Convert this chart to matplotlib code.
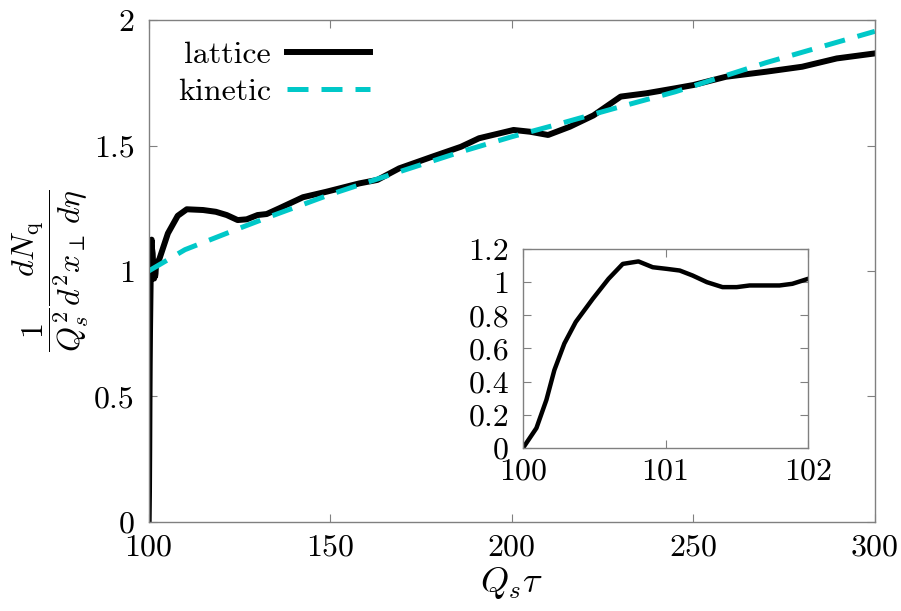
import numpy as np
import matplotlib
matplotlib.use("Agg")
import matplotlib.pyplot as plt

plt.rcParams["font.family"] = "serif"
plt.rcParams["font.serif"] = ["cmr10", "DejaVu Serif"]
plt.rcParams["mathtext.fontset"] = "cm"
plt.rcParams["axes.formatter.use_mathtext"] = True

# lattice data (Q_s tau, dN/...)
lat_x = [100.0, 100.094, 100.164, 100.22, 100.29, 100.37, 100.49, 100.60, 100.70, 100.81,
         100.91, 101.01, 101.10, 101.19, 101.29, 101.40, 101.50, 101.59, 101.71, 101.80,
         101.89, 102.0, 103.0, 105.3, 108.0, 110.5, 115.0, 118.5, 121.5, 124.5, 127.0,
         130.0, 132.5, 136.0, 142.5, 149.0, 158.0, 163.0, 169.0, 178.0, 186.0, 191.0,
         200.5, 205.0, 210.0, 216.0, 222.5, 230.0, 237.0, 245.0, 250.0, 259.0, 270.0,
         280.0, 289.5, 300.0]
lat_y = [0.0, 0.12, 0.29, 0.47, 0.63, 0.76, 0.90, 1.02, 1.11, 1.125,
         1.09, 1.08, 1.07, 1.04, 1.00, 0.97, 0.97, 0.98, 0.98, 0.98,
         0.99, 1.02, 1.05, 1.15, 1.22, 1.246, 1.243, 1.236, 1.223, 1.203, 1.206,
         1.223, 1.227, 1.25, 1.294, 1.316, 1.349, 1.363, 1.409, 1.455, 1.495, 1.529,
         1.562, 1.555, 1.542, 1.575, 1.62, 1.695, 1.708, 1.728, 1.741, 1.774, 1.794,
         1.814, 1.847, 1.867]

# kinetic theory curve
kin_x = [100, 110, 126, 134, 150, 170, 186, 200, 212, 230, 245, 270, 300]
kin_y = [1.0, 1.085, 1.176, 1.22, 1.305, 1.40, 1.475, 1.535, 1.582, 1.655, 1.714, 1.83, 1.955]

main_xticks = [100, 150, 200, 250, 300]
main_yticks = [0, 0.5, 1, 1.5, 2]
main_ylabels = ["0", "0.5", "1", "1.5", "2"]
ins_xticks = [100, 101, 102]
ins_yticks = [0, 0.2, 0.4, 0.6, 0.8, 1.0, 1.2]
ins_ylabels = ["0", "0.2", "0.4", "0.6", "0.8", "1", "1.2"]

fs = 23
grey = "#808080"
cyan = "#00c8c8"

fig = plt.figure(figsize=(9.01, 6.11), dpi=100)
ax = fig.add_axes([0.165, 0.1457, 0.806, 0.8215])

ax.plot(lat_x, lat_y, color="black", lw=4.3, label="lattice", solid_joinstyle="round")
ax.plot(kin_x, kin_y, color=cyan, lw=3.6, linestyle=(0, (4.2, 2.6)), label="kinetic")

ax.set_xlim(100, 300)
ax.set_ylim(0, 2)
ax.set_xticks(main_xticks)
ax.set_xticklabels([str(t) for t in main_xticks])
ax.set_yticks(main_yticks)
ax.set_yticklabels(main_ylabels)
ax.set_xlabel(r"$Q_s\tau$", fontsize=fs + 3, labelpad=2)
ax.set_ylabel(r"$\dfrac{1}{Q_s^2}\dfrac{dN_{\rm q}}{d^2x_\perp\, d\eta}$", fontsize=fs, labelpad=2)

for s in ax.spines.values():
    s.set_color(grey)
    s.set_linewidth(1.0)
ax.tick_params(direction="in", top=True, right=True, length=6, width=0.8, color=grey,
               labelsize=fs)
ax.tick_params(axis="x", pad=9)
ax.tick_params(axis="y", pad=10)

leg = ax.legend(loc="upper left", bbox_to_anchor=(0.04, 0.958), frameon=False, markerfirst=False,
                fontsize=fs, handlelength=2.6, handletextpad=0.5, labelspacing=0.25,
                borderpad=0, borderaxespad=0)

# inset
ins = fig.add_axes([0.5805, 0.2668, 0.3163, 0.3257])
ins.plot(lat_x, lat_y, color="black", lw=3.2)
ins.set_xlim(100, 102)
ins.set_ylim(0, 1.2)
ins.set_xticks(ins_xticks)
ins.set_xticklabels([str(t) for t in ins_xticks])
ins.set_yticks(ins_yticks)
ins.set_yticklabels(ins_ylabels)
for s in ins.spines.values():
    s.set_color(grey)
    s.set_linewidth(1.0)
ins.tick_params(direction="in", top=True, right=True, length=6, width=0.8, color=grey,
                labelsize=fs)
ins.tick_params(axis="x", pad=7)
ins.tick_params(axis="y", pad=10)

fig.savefig("out.png", dpi=100)
